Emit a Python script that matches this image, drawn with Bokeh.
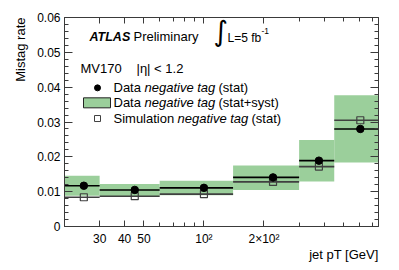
import numpy as np
from bokeh.plotting import figure
from bokeh.models import (FixedTicker, LogAxis, LinearAxis, Label, Title,
                          CustomJSTickFormatter, PrintfTickFormatter, ColumnDataSource)
from bokeh.embed import file_html
from bokeh.resources import INLINE

# ---- data ----
bin_lo = [20, 30, 60, 140, 300, 450]
bin_hi = [30, 60, 140, 300, 450, 750]
x_pt = [25, 45, 100, 222, 377, 608]
data_rate = [0.0117, 0.0105, 0.0111, 0.0141, 0.0189, 0.0280]
sim_rate = [0.0084, 0.0087, 0.0093, 0.0128, 0.0172, 0.0305]
band_lo = [0.0088, 0.0087, 0.0090, 0.0105, 0.0129, 0.0184]
band_hi = [0.0146, 0.0122, 0.0131, 0.0175, 0.0248, 0.0377]

x_major = [30, 40, 50, 100, 200]
x_major_labels = ["30", "40", "50", "10²", "2×10²"]
x_minor = [20, 30, 40, 50, 60, 70, 80, 90, 100, 200, 300, 400, 500, 600, 700]
y_major = [0, 0.01, 0.02, 0.03, 0.04, 0.05, 0.06]
y_minor = [round(0.002 * i, 3) for i in range(31)]

X0, X1 = 20, 750
Y0, Y1 = 0, 0.06
FRAME_W = 314
GREEN = "#9bcf9b"
AXC = "#3a3a3a"
FONT = "Liberation Sans"

p = figure(width=399, height=270, x_axis_type="log", x_range=(X0, X1), y_range=(Y0, Y1),
           output_backend="svg", toolbar_location=None,
           min_border_left=64, min_border_right=21, min_border_top=17, min_border_bottom=44)
p.xgrid.visible = False
p.ygrid.visible = False
p.outline_line_color = None
p.background_fill_color = "white"


def style(ax, major_in, minor_in):
    ax.axis_line_color = AXC
    ax.major_tick_line_color = AXC
    ax.minor_tick_line_color = AXC
    ax.major_tick_in = major_in
    ax.major_tick_out = 0
    ax.minor_tick_in = minor_in
    ax.minor_tick_out = 0
    ax.major_label_text_font = FONT
    ax.major_label_text_font_size = "12px"
    ax.major_label_text_color = "black"


xt = FixedTicker(ticks=x_major, minor_ticks=x_minor)
yt = FixedTicker(ticks=y_major, minor_ticks=y_minor)
xfmt = CustomJSTickFormatter(args=dict(vals=x_major, labs=x_major_labels),
                             code="const i = vals.indexOf(tick); return i >= 0 ? labs[i] : '';")
blank = CustomJSTickFormatter(code="return '';")

p.xaxis.ticker = xt
p.xaxis.formatter = xfmt
p.xaxis.major_label_standoff = 5
style(p.xaxis[0], 6, 4)
p.yaxis.ticker = yt
p.yaxis.formatter = PrintfTickFormatter(format="%g")
p.yaxis.major_label_standoff = 4
style(p.yaxis[0], 8, 4)

top = LogAxis(ticker=FixedTicker(ticks=x_major, minor_ticks=x_minor), formatter=blank)
top.major_label_standoff = 0
style(top, 6, 4)
p.add_layout(top, "above")
right = LinearAxis(ticker=FixedTicker(ticks=y_major, minor_ticks=y_minor), formatter=blank)
right.major_label_standoff = 0
style(right, 8, 4)
p.add_layout(right, "right")

# axis titles
p.add_layout(Title(text="Mistag rate", align="right", text_font=FONT, text_font_size="13px",
                   text_font_style="normal", text_color="black", standoff=14), "left")
p.add_layout(Title(text="jet pT [GeV]", align="right", text_font=FONT, text_font_size="13px",
                   text_font_style="normal", text_color="black", standoff=-7), "below")

src = ColumnDataSource(dict(lo=bin_lo, hi=bin_hi, x=x_pt, d=data_rate, s=sim_rate,
                            blo=band_lo, bhi=band_hi))
p.quad(left="lo", right="hi", bottom="blo", top="bhi", source=src,
       fill_color=GREEN, line_color=None)
p.segment(x0="lo", x1="hi", y0="s", y1="s", source=src, line_color="#404040", line_width=1.6)
p.segment(x0="lo", x1="hi", y0="d", y1="d", source=src, line_color="black", line_width=1.6)
p.scatter(x="x", y="s", source=src, marker="square", size=7, fill_color=None,
          line_color="#404040", line_width=1.2)
p.scatter(x="x", y="d", source=src, marker="circle", size=7.5, fill_color="black",
          line_color="black")


# ---- texts (offsets in screen px from the frame's left edge) ----
def lab(text, px, y, size="13px", style="normal", font=FONT, align="left", yoff=0, angle=0,
        baseline="middle"):
    p.add_layout(Label(x=X0, y=y, x_offset=px, y_offset=yoff, text=text, text_font=font,
                       text_font_size=size, text_font_style=style, text_align=align,
                       text_baseline=baseline, angle=angle, text_color="black"))


def xoff(px):
    return X0 * 10 ** (px / FRAME_W * np.log10(X1 / X0))


lab("ATLAS", 25, 0.0545, size="12.5px", style="bold italic")
lab("Preliminary", 69, 0.0545)
lab("∫", 149, 0.0560, size="28px", font="DejaVu Sans")
lab("L=5 fb", 163, 0.0542, size="12px")
lab("-1", 197, 0.0560, size="8.5px")

lab("MV170", 16, 0.0453)
lab("|η| < 1.2", 72, 0.0453)

legend_y = [0.0398, 0.0355, 0.0310]
lab("Data", 49, legend_y[0])
lab("negative tag", 80, legend_y[0], style="italic")
lab("(stat)", 154, legend_y[0])
lab("Data", 49, legend_y[1])
lab("negative tag", 80, legend_y[1], style="italic")
lab("(stat+syst)", 154, legend_y[1])
lab("Simulation", 49, legend_y[2])
lab("negative tag", 113, legend_y[2], style="italic")
lab("(stat)", 187, legend_y[2])

p.scatter(x=[xoff(33)], y=[legend_y[0]], marker="circle", size=6, fill_color="black",
          line_color="black")
p.rect(x=[xoff(32.5)], y=[legend_y[1]], width=27, height=10, width_units="screen",
       height_units="screen", fill_color=GREEN, line_color="#222222", line_width=1)
p.scatter(x=[xoff(33)], y=[legend_y[2]], marker="square", size=6, fill_color=None,
          line_color="#404040", line_width=1)

open("out.html", "w").write(file_html(p, INLINE))
